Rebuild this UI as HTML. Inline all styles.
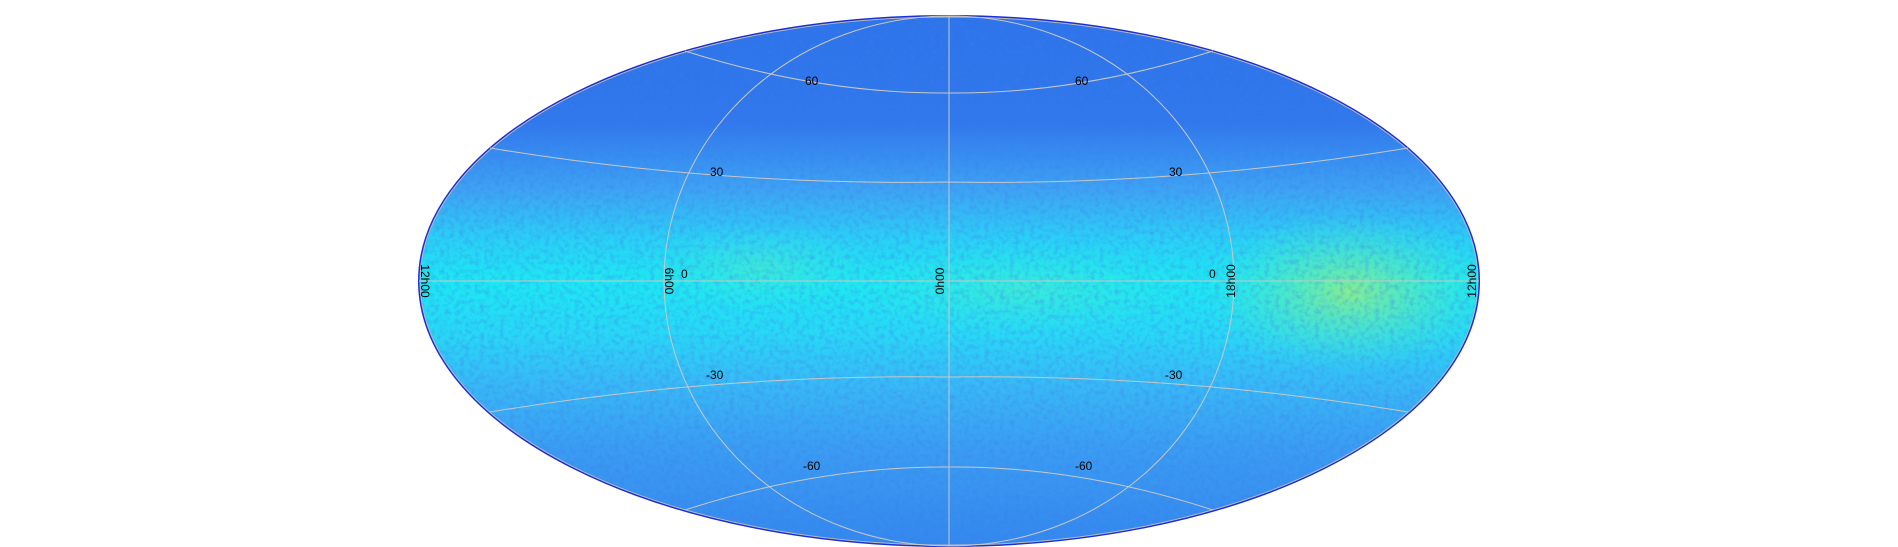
<!DOCTYPE html>
<html><head><meta charset="utf-8"><style>
html,body{margin:0;padding:0;background:#fff;}
svg{display:block;font-family:"Liberation Sans","DejaVu Sans",sans-serif;}
</style></head><body>
<svg width="1898" height="547" viewBox="0 0 1898 547">
<defs>
  <clipPath id="ell"><ellipse cx="949" cy="281" rx="530" ry="265"/></clipPath>
  <linearGradient id="lat" x1="0" y1="16" x2="0" y2="546" gradientUnits="userSpaceOnUse">
    <stop offset="0" stop-color="#2e74ea"/>
    <stop offset="0.2" stop-color="#3078ec"/>
    <stop offset="0.33" stop-color="#3ea4f4"/>
    <stop offset="0.42" stop-color="#2ad0f6"/>
    <stop offset="0.5" stop-color="#1ce8f2"/>
    <stop offset="0.6" stop-color="#28d8f6"/>
    <stop offset="0.7" stop-color="#38b8f6"/>
    <stop offset="0.82" stop-color="#3a9cf2"/>
    <stop offset="1" stop-color="#3488ee"/>
  </linearGradient>
  <radialGradient id="blob" cx="1350" cy="292" r="1" gradientUnits="userSpaceOnUse" gradientTransform="translate(1350 292) scale(150 80) translate(-1350 -292)">
    <stop offset="0" stop-color="#a8f070" stop-opacity="0.75"/>
    <stop offset="0.5" stop-color="#70f0a0" stop-opacity="0.4"/>
    <stop offset="1" stop-color="#40f0d0" stop-opacity="0"/>
  </radialGradient>
  <radialGradient id="blob2" cx="0.5" cy="0.5" r="0.5">
    <stop offset="0" stop-color="#60f0b8" stop-opacity="0.45"/>
    <stop offset="1" stop-color="#30f0e0" stop-opacity="0"/>
  </radialGradient>
  <filter id="noise" x="0" y="0" width="100%" height="100%">
    <feTurbulence type="fractalNoise" baseFrequency="0.2" numOctaves="3" seed="4"/>
    <feColorMatrix type="matrix" values="0 0 0 0 0.05  0 0 0 0 0.2  0 0 0 0 0.85  0 0 0 1.8 -0.75"/>
  </filter>
</defs>
<g clip-path="url(#ell)">
  <rect x="419" y="16" width="1060" height="530" fill="url(#lat)"/>
  <ellipse cx="760" cy="268" rx="120" ry="45" fill="url(#blob2)"/>
  <ellipse cx="1020" cy="290" rx="180" ry="50" fill="url(#blob2)"/>
  <ellipse cx="1350" cy="292" rx="150" ry="80" fill="url(#blob)"/>
  <rect x="419" y="16" width="1060" height="530" filter="url(#noise)" opacity="0.45"/>
</g>
<ellipse cx="949" cy="281" rx="530" ry="265" fill="none" stroke="#1a2fd8" stroke-width="2"/>
<g fill="none" stroke="#c8c8c8" stroke-width="1">
  <ellipse cx="949" cy="281" rx="529" ry="264" stroke="#bbb"/>
  <line x1="419" y1="281" x2="1479" y2="281"/>
  <line x1="949" y1="16" x2="949" y2="546"/>
  <ellipse cx="949" cy="281" rx="285" ry="265"/>
  <path d="M490 148 Q720 186 949 182 Q1178 186 1408 148"/>
  <path d="M685 51 Q820 94 949 93 Q1078 94 1213 51"/>
  <path d="M490 412 Q720 374 949 377 Q1178 374 1408 412"/>
  <path d="M685 510 Q820 466 949 467 Q1078 466 1213 510"/>
</g>
<g font-size="12" fill="#000">
  <text x="805" y="85">60</text>
  <text x="710" y="176">30</text>
  <text x="681" y="278">0</text>
  <text x="706" y="379">-30</text>
  <text x="803" y="470">-60</text>
  <text x="1075" y="85">60</text>
  <text x="1169" y="176">30</text>
  <text x="1209" y="278">0</text>
  <text x="1165" y="379">-30</text>
  <text x="1075" y="470">-60</text>
</g>
<g font-size="12" fill="#000" text-anchor="middle">
  <text transform="translate(421 281) rotate(90)">12h00</text>
  <text transform="translate(665 281) rotate(90)">6h00</text>
  <text transform="translate(944 281) rotate(-90)">0h00</text>
  <text transform="translate(1235 281) rotate(-90)">18h00</text>
  <text transform="translate(1476 281) rotate(-90)">12h00</text>
</g>
</svg>
</body></html>
